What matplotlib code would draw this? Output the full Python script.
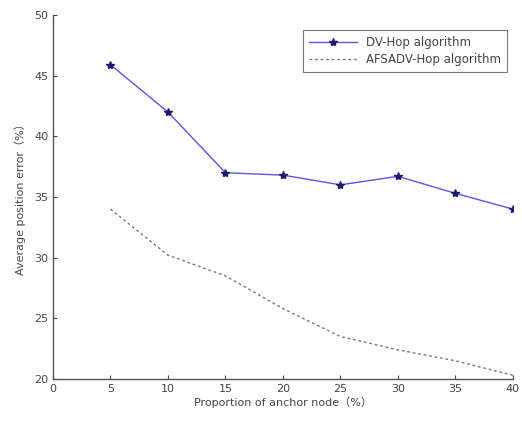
import matplotlib
matplotlib.use("Agg")
import matplotlib.pyplot as plt

x = [5, 10, 15, 20, 25, 30, 35, 40]
dv_hop = [45.9, 42.0, 37.0, 36.8, 36.0, 36.7, 35.3, 34.0]
afsadv_hop = [34.0, 30.2, 28.5, 25.8, 23.5, 22.4, 21.5, 20.3]
xticks = [0, 5, 10, 15, 20, 25, 30, 35, 40]
yticks = [20, 25, 30, 35, 40, 45, 50]

plt.rcParams['font.family'] = ['DejaVu Sans', 'Noto Sans CJK SC']
txt = '#444444'

fig = plt.figure(figsize=(5.22, 4.22), dpi=100)
ax = fig.add_axes([0.1015, 0.102, 0.881, 0.8625])
ax.plot(x, dv_hop, color='#5555ee', lw=1.0, marker='*', markersize=6,
        markerfacecolor='#1a1a6e', markeredgecolor='#1a1a6e', label='DV-Hop algorithm')
ax.plot(x, afsadv_hop, color='#777777', lw=1.0, linestyle=(0, (2, 2)), label='AFSADV-Hop algorithm')
ax.set_xlim(0, 40)
ax.set_ylim(20, 50)
ax.set_xticks(xticks)
ax.set_yticks(yticks)
ax.tick_params(direction='in', length=3, labelsize=8, colors=txt, width=0.8)
for s in ['top', 'right']:
    ax.spines[s].set_visible(False)
for s in ['left', 'bottom']:
    ax.spines[s].set_color('#555555')
    ax.spines[s].set_linewidth(1.0)
ax.set_xlabel('Proportion of anchor node（%）', fontsize=8, color=txt,
              family=['DejaVu Sans', 'Noto Sans CJK SC'], labelpad=2)
ax.set_ylabel('Average position error（%）', fontsize=8, color=txt,
              family=['DejaVu Sans', 'Noto Sans CJK SC'], labelpad=6)
leg = ax.legend(loc='upper right', bbox_to_anchor=(1.0, 0.975), fontsize=8.5,
                frameon=True, fancybox=False, edgecolor='#555555', handlelength=4,
                borderpad=0.5, labelspacing=0.35)
leg.get_frame().set_linewidth(0.8)
for t in leg.get_texts():
    t.set_color(txt)
fig.savefig('out.png', dpi=100)
